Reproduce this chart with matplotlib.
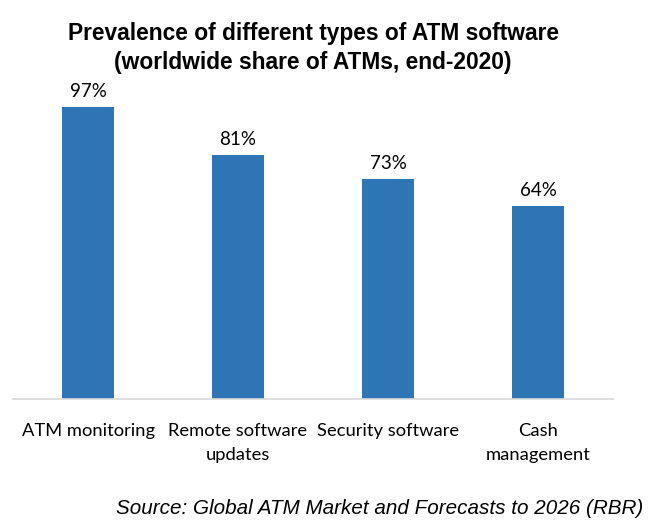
import matplotlib
matplotlib.use('Agg')
from matplotlib import pyplot as plt
import numpy as np

categories = ['ATM monitoring', 'Remote software\nupdates', 'Security software', 'Cash\nmanagement']
shares = [97, 81, 73, 64]
value_labels = ['97%', '81%', '73%', '64%']

fig = plt.figure(figsize=(6.57, 5.32), dpi=100)
ax = fig.add_axes([0.0198, 0.2500, 0.9132, 0.5658])

x = np.arange(len(categories))
bars = ax.bar(x, shares, width=0.35, color='#2E75B6')

for b, lab in zip(bars, value_labels):
    ax.annotate(lab, (b.get_x() + b.get_width() / 2, b.get_height()),
                xytext=(0, 5), textcoords='offset points',
                ha='center', va='bottom', fontsize=13.5, family='Lato')

ax.set_xlim(-0.5, 3.5)
ax.set_ylim(0, 100)
ax.set_xticks(x)
ax.set_xticklabels(categories, fontsize=13.2, family='Lato', linespacing=1.65)
ax.tick_params(axis='x', length=0, pad=17)
ax.set_yticks([])
for s in ['top', 'right', 'left']:
    ax.spines[s].set_visible(False)
ax.spines['bottom'].set_color('#D9D9D9')
ax.spines['bottom'].set_linewidth(1.2)

fig.text(313 / 657, 1 - 48 / 532, 'Prevalence of different types of ATM software\n(worldwide share of ATMs, end-2020)',
         ha='center', va='center', fontsize=16.4, fontweight='bold',
         family='Liberation Sans', linespacing=1.3)
fig.text(643 / 657, 1 - 508 / 532, 'Source: Global ATM Market and Forecasts to 2026 (RBR)',
         ha='right', va='center', fontsize=14.9, style='italic', family='Liberation Sans')

fig.savefig('out.png', dpi=100)
